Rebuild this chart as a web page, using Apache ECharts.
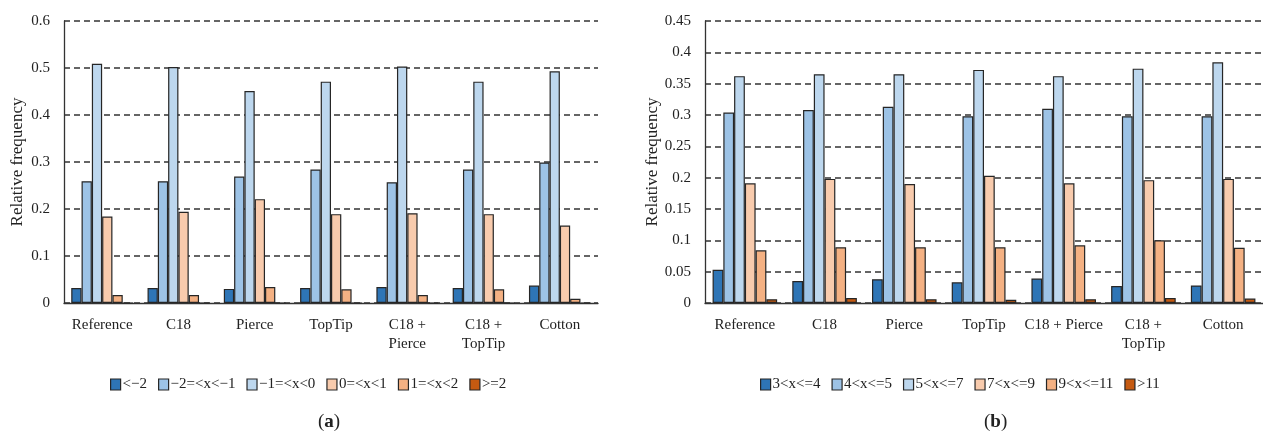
<!DOCTYPE html>
<html><head><meta charset="utf-8">
<script src="https://cdn.jsdelivr.net/npm/echarts@6/dist/echarts.min.js"></script>
<style>html,body{margin:0;padding:0;background:#fff}#c{width:1263px;height:438px}</style>
</head><body><div id="c"></div>
<script>
var categoriesA = ['Reference', 'C18', 'Pierce', 'TopTip', 'C18 +\nPierce', 'C18 +\nTopTip', 'Cotton'];
var categoriesB = ['Reference', 'C18', 'Pierce', 'TopTip', 'C18 + Pierce', 'C18 +\nTopTip', 'Cotton'];
var namesA = ['<\u22122', '\u22122=<x<\u22121', '\u22121=<x<0', '0=<x<1', '1=<x<2', '>=2'];
var namesB = ['3<x<=4', '4<x<=5', '5<x<=7', '7<x<=9', '9<x<=11', '>11'];
var a1 = [0.032, 0.032, 0.030, 0.032, 0.034, 0.032, 0.037];
var a2 = [0.259, 0.259, 0.269, 0.284, 0.257, 0.284, 0.299];
var a3 = [0.509, 0.502, 0.451, 0.471, 0.503, 0.471, 0.493];
var a4 = [0.184, 0.194, 0.221, 0.189, 0.191, 0.189, 0.165];
var a5 = [0.017, 0.017, 0.034, 0.029, 0.017, 0.029, 0.009];
var a6 = [0, 0, 0, 0, 0, 0, 0];
var b1 = [0.053, 0.035, 0.038, 0.033, 0.039, 0.027, 0.028];
var b2 = [0.304, 0.308, 0.313, 0.298, 0.310, 0.298, 0.298];
var b3 = [0.362, 0.365, 0.365, 0.372, 0.362, 0.374, 0.384];
var b4 = [0.191, 0.198, 0.190, 0.203, 0.191, 0.196, 0.198];
var b5 = [0.084, 0.089, 0.089, 0.089, 0.092, 0.100, 0.088];
var b6 = [0.006, 0.008, 0.006, 0.005, 0.006, 0.008, 0.007];
var ticksA = {min: 0, max: 0.6, interval: 0.1};
var ticksB = {min: 0, max: 0.45, interval: 0.05};

var colors = ['#2E75B6', '#9DC3E6', '#BDD7EE', '#F8CBAD', '#F4B183', '#C55A11'];
var FONT = 'Liberation Serif';
var dataA = [a1, a2, a3, a4, a5, a6];
var dataB = [b1, b2, b3, b4, b5, b6];

function xAxis(cats, gi) {
  return {type: 'category', gridIndex: gi, data: cats,
    axisLine: {lineStyle: {color: '#333', width: 1.3}},
    axisTick: {show: false},
    axisLabel: {color: '#222', fontFamily: FONT, fontSize: 15, margin: 13, lineHeight: 19, interval: 0}};
}
function yAxis(t, gi) {
  return {type: 'value', gridIndex: gi, min: t.min, max: t.max, interval: t.interval,
    name: 'Relative frequency', nameLocation: 'middle', nameGap: 38, nameRotate: 90,
    nameTextStyle: {color: '#222', fontFamily: FONT, fontSize: 17},
    axisLine: {show: true, lineStyle: {color: '#333', width: 1.3}},
    axisTick: {show: false},
    axisLabel: {color: '#222', fontFamily: FONT, fontSize: 15, margin: 14},
    splitLine: {lineStyle: {color: '#333', width: 1.5, type: [6, 4]}}};
}
var series = [];
function addSeries(names, data, gi) {
  for (var i = 0; i < names.length; i++) {
    series.push({type: 'bar', name: names[i], xAxisIndex: gi, yAxisIndex: gi, data: data[i],
      barGap: '0%', barCategoryGap: '19%',
      itemStyle: {color: colors[i], borderColor: '#262626', borderWidth: 1.2}});
  }
}
addSeries(namesA, dataA, 0);
addSeries(namesB, dataB, 1);

function legend(names, left) {
  return {data: names, left: left, top: 372, icon: 'rect', itemWidth: 10, itemHeight: 11, itemGap: 11,
    textStyle: {color: '#222', fontFamily: FONT, fontSize: 15, padding: [0, 0, 0, -3]},
    itemStyle: {borderColor: '#262626', borderWidth: 1.2}};
}

var chart = echarts.init(document.getElementById('c'), null, {renderer: 'canvas'});
chart.setOption({
  animation: false,
  grid: [{left: 64, top: 21, width: 534, height: 282}, {left: 705, top: 21, width: 570, height: 282}],
  xAxis: [xAxis(categoriesA, 0), xAxis(categoriesB, 1)],
  yAxis: [yAxis(ticksA, 0), yAxis(ticksB, 1)],
  legend: [legend(namesA, 105), legend(namesB, 755)],
  graphic: [
    {type: 'text', left: 318, top: 413, style: {text: '({b|a})', rich: {b: {fontWeight: 'bold', fontSize: 19, fontFamily: FONT, fill: '#222'}}, font: '19px ' + FONT, fill: '#222'}},
    {type: 'text', left: 984, top: 413, style: {text: '({b|b})', rich: {b: {fontWeight: 'bold', fontSize: 19, fontFamily: FONT, fill: '#222'}}, font: '19px ' + FONT, fill: '#222'}}
  ],
  series: series
});
</script></body></html>
